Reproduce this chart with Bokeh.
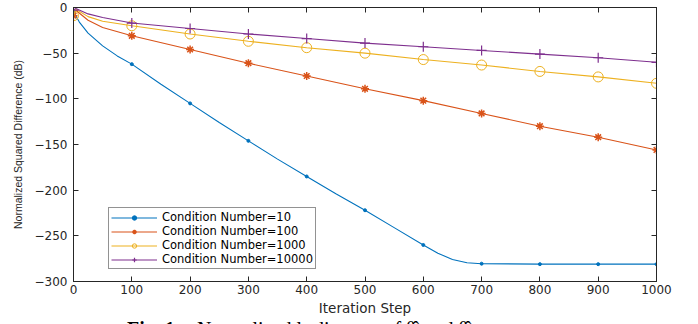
from bokeh.plotting import figure
from bokeh.layouts import column
from bokeh.models import (Range1d, LinearAxis, FixedTicker, Legend, LegendItem, Div)
from bokeh.embed import file_html
from bokeh.resources import INLINE

# ---- data ----
x_cn10 = [0, 5, 10, 25, 50, 75, 100, 150, 200, 250, 300, 350, 400, 450, 500,
          550, 600, 625, 650, 675, 700, 800, 900, 1000]
y_cn10 = [-5, -10, -16, -28, -42, -53, -62, -84, -105, -126, -146, -166, -185,
          -204, -222, -241, -260, -269, -276, -279.5, -280.5, -281, -281, -281]

x_other = [0, 4, 25, 50, 100, 200, 300, 400, 500, 600, 700, 800, 900, 1000]
y_cn100 = [-9, -3, -14, -22, -31, -46, -61, -75, -89, -102, -116, -130, -142, -156]
y_cn1000 = [-9, -2, -10, -15, -20, -29, -37, -44, -50, -57, -63, -70, -76, -83]
y_cn10000 = [-3, -1, -7, -11, -17, -23, -29, -34, -39, -43, -47, -51, -55, -60]

labels = ["Condition Number=10", "Condition Number=100",
          "Condition Number=1000", "Condition Number=10000"]
x_ticks = [0, 100, 200, 300, 400, 500, 600, 700, 800, 900, 1000]
y_ticks = [-300, -250, -200, -150, -100, -50, 0]
caption_bold = "Fig. 1:"
caption_rest = "Normalized l\u2082 distance of \u03b8\u0302\u1d57 and \u03b8\u0302"

colors = ["#0072BD", "#D95319", "#EDB120", "#7E2F8E"]
FONT = "DejaVu Sans"
AX = "#262626"

p = figure(width=698, height=318, output_backend="svg", toolbar_location=None,
           x_range=Range1d(0, 1000), y_range=Range1d(-300, 0),
           min_border_left=73, min_border_right=42, min_border_top=7,
           min_border_bottom=34, margin=0)
p.grid.visible = False
p.outline_line_color = AX
p.outline_line_width = 1
p.background_fill_color = "white"
p.border_fill_color = "white"

for ax in [p.xaxis[0], p.yaxis[0]]:
    ax.axis_line_color = AX
    ax.major_tick_line_color = AX
    ax.major_tick_in = 5
    ax.major_tick_out = 0
    ax.minor_tick_line_color = None
    ax.major_label_text_font = FONT
    ax.major_label_text_font_size = "12px"
    ax.major_label_text_color = AX
    ax.axis_label_text_font_style = "normal"
    ax.axis_label_text_color = AX

p.xaxis.ticker = FixedTicker(ticks=x_ticks)
p.yaxis.ticker = FixedTicker(ticks=y_ticks)
p.xaxis.axis_label = "Iteration Step"
p.xaxis.axis_label_text_font = FONT
p.xaxis.axis_label_text_font_size = "13.5px"
p.xaxis.axis_label_standoff = 3
p.xaxis.major_label_standoff = 3
p.yaxis.axis_label = "Normalized Squared Difference (dB)"
p.yaxis.axis_label_text_font = "Liberation Sans"
p.yaxis.axis_label_text_font_size = "10.5px"
p.yaxis.axis_label_standoff = 8
p.yaxis.major_label_standoff = 6

# top and right axes with inward ticks, no labels
top = LinearAxis(ticker=FixedTicker(ticks=x_ticks),
                 major_label_overrides={t: "" for t in x_ticks})
right = LinearAxis(ticker=FixedTicker(ticks=y_ticks),
                   major_label_overrides={t: "" for t in y_ticks})
for ax in [top, right]:
    ax.axis_line_color = AX
    ax.major_tick_line_color = AX
    ax.major_tick_in = 5
    ax.major_tick_out = 0
    ax.minor_tick_line_color = None
    ax.major_label_text_font_size = "1px"
p.add_layout(top, "above")
p.add_layout(right, "right")

def marks(xs, ys):
    mx = [x for x in xs if x % 100 == 0]
    my = [y for x, y in zip(xs, ys) if x % 100 == 0]
    return mx, my

items = []
l0 = p.line(x_cn10, y_cn10, line_color=colors[0], line_width=1.1)
mx, my = marks(x_cn10, y_cn10)
m0 = p.scatter(mx, my, marker="circle", size=3, color=colors[0])
items.append(LegendItem(label=labels[0], renderers=[l0, m0]))

l1 = p.line(x_other, y_cn100, line_color=colors[1], line_width=1.1)
mx, my = marks(x_other, y_cn100)
m1 = p.scatter(mx, my, marker="asterisk", size=8, line_color=colors[1], line_width=1.5)
items.append(LegendItem(label=labels[1], renderers=[l1, m1]))

l2 = p.line(x_other, y_cn1000, line_color=colors[2], line_width=1.1)
mx, my = marks(x_other, y_cn1000)
m2 = p.scatter(mx, my, marker="circle", size=10, fill_color=None,
               line_color=colors[2], line_width=1)
items.append(LegendItem(label=labels[2], renderers=[l2, m2]))

l3 = p.line(x_other, y_cn10000, line_color=colors[3], line_width=1.1)
mx, my = marks(x_other, y_cn10000)
m3 = p.scatter(mx, my, marker="cross", size=10, line_color=colors[3], line_width=1.2)
items.append(LegendItem(label=labels[3], renderers=[l3, m3]))

leg = Legend(items=items, location=(35, 12))
leg.label_text_font = FONT
leg.label_text_font_size = "11.5px"
leg.label_text_color = "black"
leg.label_height = 11
leg.label_standoff = 5
leg.glyph_width = 46
leg.glyph_height = 11
leg.spacing = 0
leg.padding = 2
leg.margin = 0
leg.border_line_color = AX
leg.border_line_width = 1
leg.background_fill_alpha = 1
p.add_layout(leg, "center")

# figure caption: only the top few pixels fall inside the window
cap = Div(width=698, height=22, margin=0,
          styles={"margin-top": "-1px"},
          text=('<div style="position:relative;width:698px;height:22px;">'
                '<span style="position:absolute;left:127px;top:5px;font-family:\'Liberation Serif\';'
                'font-size:20px;line-height:14px;font-weight:bold;white-space:nowrap;color:black;">'
                + caption_bold + '</span>'
                '<span style="position:absolute;left:197px;top:5px;font-family:\'Liberation Serif\';'
                'font-size:20px;line-height:14px;white-space:nowrap;color:black;">'
                + caption_rest + '</span></div>'))

layout = column(p, cap, spacing=0, margin=0, height=324, width=698,
                styles={"overflow": "hidden"})
open("out.html", "w").write(file_html(layout, INLINE))
